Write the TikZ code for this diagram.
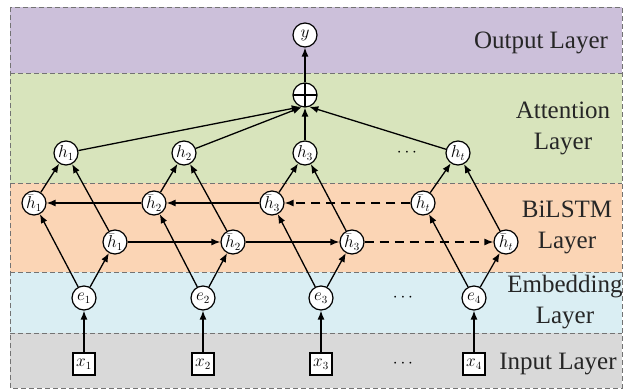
\documentclass[tikz,border=0pt]{standalone}
\usepackage{fontspec}
\setmainfont{Liberation Serif}
\usetikzlibrary{arrows.meta}
\definecolor{outc}{HTML}{CCC0DA}
\definecolor{attc}{HTML}{D8E4BC}
\definecolor{bilc}{HTML}{FBD5B5}
\definecolor{embc}{HTML}{DAEEF3}
\definecolor{inpc}{HTML}{D9D9D9}
\tikzset{
  layerbox/.style={draw=gray!90!black, dashed, dash pattern=on 5pt off 3pt, line width=0.9pt},
  nd/.style={circle, draw, fill=white, line width=1.2pt, minimum size=24pt, inner sep=0pt, font=\fontsize{16}{18}\selectfont},
  inbox/.style={rectangle, draw, fill=white, line width=1.2pt, minimum size=22pt, inner sep=0pt, font=\fontsize{16}{18}\selectfont},
  arr/.style={line width=1.3pt, -{Latex[length=9pt,width=7pt]}},
  darr/.style={arr, dashed, dash pattern=on 9pt off 6pt},
  lbl/.style={align=center, font=\fontsize{25}{31}\selectfont, text=black!85},
  dots/.style={font=\fontsize{18}{20}\selectfont}
}
\begin{document}
\begin{tikzpicture}[x=1pt,y=-1pt]
\useasboundingbox (0,0) rectangle (625,390);
% layers
\fill[outc] (10,7) rectangle (622,73);
\fill[attc] (10,73) rectangle (622,183);
\fill[bilc] (10,183) rectangle (622,272);
\fill[embc] (10,272) rectangle (622,333);
\fill[inpc] (10,333) rectangle (622,388);
\draw[layerbox] (10,7) rectangle (622,388);
\draw[layerbox] (10,73) -- (622,73);
\draw[layerbox] (10,183) -- (622,183);
\draw[layerbox] (10,272) -- (622,272);
\draw[layerbox] (10,333) -- (622,333);
% labels
\node[lbl] (lo) at (541,43) {Output Layer};
\node[lbl] (la) at (563,128) {Attention\\Layer};
\node[lbl] (lb) at (567,227) {BiLSTM\\Layer};
\node[lbl] (le) at (565,302) {Embedding\\Layer};
\node[lbl] (li) at (558,364) {Input Layer};
% nodes
\node[nd] (y) at (305,35) {$y$};
\node[nd, path picture={\draw[line width=1.2pt] (path picture bounding box.north) -- (path picture bounding box.south) (path picture bounding box.west) -- (path picture bounding box.east);}] (op) at (305,95) {};
\node[nd] (h1) at (66,153) {$h_1$};
\node[nd] (h2) at (184,153) {$h_2$};
\node[nd] (h3) at (305,153) {$h_3$};
\node[nd] (ht) at (458,153) {$h_t$};
\node[dots] (d1) at (407,153) {$\cdots$};
\node[nd] (b1) at (34,203) {$\bar{h}_1$};
\node[nd] (b2) at (154,203) {$\bar{h}_2$};
\node[nd] (b3) at (272,203) {$\bar{h}_3$};
\node[nd] (bt) at (423,203) {$\bar{h}_t$};
\node[nd] (f1) at (115,242) {$\bar{h}_1$};
\node[nd] (f2) at (233,242) {$\bar{h}_2$};
\node[nd] (f3) at (352,242) {$\bar{h}_3$};
\node[nd] (ft) at (506,242) {$\bar{h}_t$};
\node[nd] (e1) at (84,298) {$e_1$};
\node[nd] (e2) at (203,298) {$e_2$};
\node[nd] (e3) at (321,298) {$e_3$};
\node[nd] (e4) at (474,298) {$e_4$};
\node[dots] (d2) at (403,298) {$\cdots$};
\node[inbox] (x1) at (84,364) {$x_1$};
\node[inbox] (x2) at (203,364) {$x_2$};
\node[inbox] (x3) at (321,364) {$x_3$};
\node[inbox] (x4) at (474,364) {$x_4$};
\node[dots] (d3) at (403,364) {$\cdots$};
% edges
\foreach \i in {1,2,3,4} {
  \draw[arr] (x\i) -- (e\i);
}
\draw[arr] (e1) -- (b1); \draw[arr] (e1) -- (f1);
\draw[arr] (e2) -- (b2); \draw[arr] (e2) -- (f2);
\draw[arr] (e3) -- (b3); \draw[arr] (e3) -- (f3);
\draw[arr] (e4) -- (bt); \draw[arr] (e4) -- (ft);
\draw[arr] (f1) -- (f2); \draw[arr] (f2) -- (f3); \draw[darr] (f3) -- (ft);
\draw[arr] (b2) -- (b1); \draw[arr] (b3) -- (b2); \draw[darr] (bt) -- (b3);
\draw[arr] (b1) -- (h1); \draw[arr] (f1) -- (h1);
\draw[arr] (b2) -- (h2); \draw[arr] (f2) -- (h2);
\draw[arr] (b3) -- (h3); \draw[arr] (f3) -- (h3);
\draw[arr] (bt) -- (ht); \draw[arr] (ft) -- (ht);
\draw[arr] (h1) -- (op.250);
\draw[arr] (h2) -- (op.255);
\draw[arr] (h3) -- (op.south);
\draw[arr] (ht) -- (op.290);
\draw[arr] (op) -- (y);
\end{tikzpicture}
\end{document}
